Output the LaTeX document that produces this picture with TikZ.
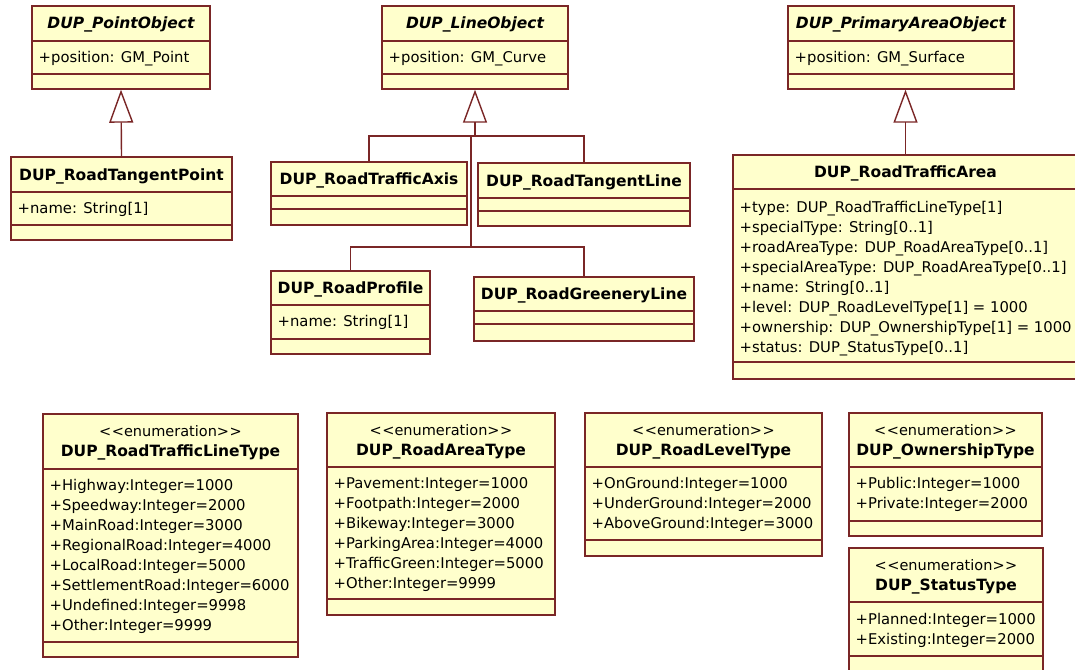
\documentclass[tikz,border=0pt]{standalone}
\usepackage{fontspec}
\setmainfont{DejaVu Sans}
\usetikzlibrary{arrows.meta,fit}

\definecolor{umlline}{RGB}{122,38,38}
\definecolor{umlfill}{RGB}{255,255,204}

\tikzset{
  classbox/.style={draw=umlline, fill=umlfill, line width=1.4pt, inner sep=0pt},
  compline/.style={draw=umlline, line width=1.4pt},
  classname/.style={font=\fontsize{15.5}{20}\selectfont\bfseries, inner sep=0pt, anchor=base},
  stereotype/.style={font=\fontsize{14.5}{20}\selectfont, inner sep=0pt, anchor=base},
  attrs/.style={font=\fontsize{14.8}{20}\selectfont, align=left, inner sep=0pt, anchor=north west},
  link/.style={draw=umlline, line width=1.4pt},
  gen/.style={link, -{Triangle[open, length=33pt, width=24pt, line width=1.4pt]}},
}

% class frame: name, x1, y1, x2, y2, header rule, attribute rule, class name
\newcommand{\umlclass}[8]{%
  \node[classbox, fit={(#2,#3) (#4,#5)}] (#1) {};
  \draw[compline] (#2,#6) -- (#4,#6);
  \draw[compline] (#2,#7) -- (#4,#7);
  \pgfmathsetmacro\classmid{(#2+#4)/2}
  \pgfmathsetmacro\classbase{(#3+#6)/2+5.5}
  \node[classname] (#1-name) at (\classmid,\classbase) {#8};
}

% enumeration frame: same arguments, with the stereotype line above the name
\newcommand{\umlenum}[8]{%
  \node[classbox, fit={(#2,#3) (#4,#5)}] (#1) {};
  \draw[compline] (#2,#6) -- (#4,#6);
  \draw[compline] (#2,#7) -- (#4,#7);
  \pgfmathsetmacro\classmid{(#2+#4)/2}
  \pgfmathsetmacro\stereobase{#3+22}
  \pgfmathsetmacro\classbase{#3+42}
  \node[stereotype] (#1-stereo) at (\classmid,\stereobase)
    {<\kern0.5pt<enumeration>\kern0.5pt>};
  \node[classname] (#1-name) at (\classmid,\classbase) {#8};
}

\begin{document}
\begin{tikzpicture}[x=1pt, y=-1pt]
  \useasboundingbox (0,0) rectangle (1075,669);
  \fill[white] (0,0) rectangle (1075,669);
  \clip (0,0) rectangle (1075,669);

  % abstract base classes
  \umlclass{pobj}{32}{6}{210}{89}{41}{74}{\itshape DUP\_PointObject}
  \node[attrs] (pobj-attr) at (38.5,48) {\strut+position: GM\_Point};

  \umlclass{lobj}{382}{6}{568}{89}{41}{74}{\itshape DUP\_LineObject}
  \node[attrs] (lobj-attr) at (388.5,48) {\strut+position: GM\_Curve};

  \umlclass{aobj}{788}{6}{1014}{89}{41}{74}{\itshape DUP\_PrimaryAreaObject}
  \node[attrs] (aobj-attr) at (794.5,48) {\strut+position: GM\_Surface};

  % point subclass
  \umlclass{tpoint}{11}{157}{232}{240}{192}{225}{DUP\_RoadTangentPoint}
  \node[attrs] (tpoint-attr) at (17.5,199) {\strut+name: String[1]};

  % line subclasses
  \umlclass{taxis}{271}{162}{467}{225}{196}{209}{DUP\_RoadTrafficAxis}
  \umlclass{tline}{478}{163}{690}{226}{198}{211}{DUP\_RoadTangentLine}
  \umlclass{profile}{271}{271}{430}{354}{305}{339}{DUP\_RoadProfile}
  \node[attrs] (profile-attr) at (277.5,312) {\strut+name: String[1]};
  \umlclass{greenery}{474}{277}{694}{341}{311}{324}{DUP\_RoadGreeneryLine}

  % area subclass
  \umlclass{tarea}{733}{155}{1078}{379}{189}{362}{DUP\_RoadTrafficArea}
  \node[attrs] (tarea-attr) at (739.5,198) {\strut+type: DUP\_RoadTrafficLineType[1]\\
    +specialType: String[0..1]\\
    +roadAreaType: DUP\_RoadAreaType[0..1]\\
    +specialAreaType: DUP\_RoadAreaType[0..1]\\
    +name: String[0..1]\\
    +level: DUP\_RoadLevelType[1] = 1000\\
    +ownership: DUP\_OwnershipType[1] = 1000\\
    +status: DUP\_StatusType[0..1]};

  % enumerations
  \umlenum{tltype}{43}{414}{298}{657}{469}{642}{DUP\_RoadTrafficLineType}
  \node[attrs] (tltype-attr) at (49.5,476) {\strut+Highway:Integer=1000\\
    +Speedway:Integer=2000\\
    +MainRoad:Integer=3000\\
    +RegionalRoad:Integer=4000\\
    +LocalRoad:Integer=5000\\
    +SettlementRoad:Integer=6000\\
    +Undefined:Integer=9998\\
    +Other:Integer=9999};

  \umlenum{areatype}{327}{413}{555}{615}{467}{599}{DUP\_RoadAreaType}
  \node[attrs] (areatype-attr) at (333.5,474) {\strut+Pavement:Integer=1000\\
    +Footpath:Integer=2000\\
    +Bikeway:Integer=3000\\
    +ParkingArea:Integer=4000\\
    +TrafficGreen:Integer=5000\\
    +Other:Integer=9999};

  \umlenum{leveltype}{585}{413}{822}{556}{467}{540}{DUP\_RoadLevelType}
  \node[attrs] (leveltype-attr) at (591.5,474) {\strut+OnGround:Integer=1000\\
    +UnderGround:Integer=2000\\
    +AboveGround:Integer=3000};

  \umlenum{owntype}{849}{413}{1042}{536}{467}{521}{DUP\_OwnershipType}
  \node[attrs] (owntype-attr) at (855.5,474) {\strut+Public:Integer=1000\\
    +Private:Integer=2000};

  \umlenum{statustype}{849}{548}{1043}{680}{602}{656}{DUP\_StatusType}
  \node[attrs] (statustype-attr) at (855.5,610) {\strut+Planned:Integer=1000\\
    +Existing:Integer=2000};

  % generalisations
  \draw[gen] (tpoint.north) -- (pobj.south);
  \draw[gen] (tarea.north) -- (tarea.north |- aobj.south);

  \coordinate (lobj-fork) at (475,136);
  \coordinate (lobj-lower) at (471,247);
  \draw[link] (taxis.north) |- (lobj-fork) -| (tline.north);
  \draw[link] (profile.north) |- (lobj-lower) -| (greenery.north);
  \draw[link] (lobj-lower) -- (lobj-lower |- lobj-fork);
  \draw[gen] (lobj-fork) -- (lobj.south);
\end{tikzpicture}
\end{document}
